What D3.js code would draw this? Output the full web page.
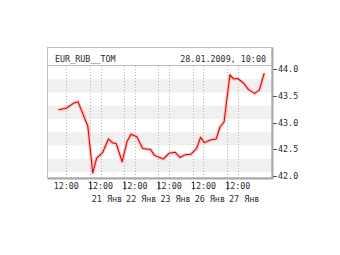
<!DOCTYPE html>
<html>
<head>
  <meta charset="utf-8">
  <title></title>
  <style>
    body,html{
      margin:0;
      padding:0;
      background:#fff;
    }
    text{
      font-family: "DejaVu Sans Mono", monospace;
      font-size:8.4px;
      fill:#2a2a2a;
    }
  </style>
</head>
<body>
  <div id="container"></div>
  <script src="https://d3js.org/d3.v7.min.js"></script>
  <script type="text/javascript">

    var title = 'EUR_RUB__TOM';
    var stamp = '28.01.2009, 10:00';

    // trading days shown on the axis (weekend is skipped)
    var tradingDays = ['2009-01-20','2009-01-21','2009-01-22','2009-01-23','2009-01-26','2009-01-27','2009-01-28'];
    var dayLabels = ['20 Янв','21 Янв','22 Янв','23 Янв','26 Янв','27 Янв'];
    var yTicks = [42.0, 42.5, 43.0, 43.5, 44.0];

    var times = [
      '2009-01-20 10:00','2009-01-20 12:00','2009-01-20 14:00','2009-01-20 15:00','2009-01-20 17:30',
      '2009-01-21 10:00','2009-01-21 11:00','2009-01-21 12:30','2009-01-21 14:00','2009-01-21 15:00','2009-01-21 16:00','2009-01-21 17:30',
      '2009-01-22 10:00','2009-01-22 11:00','2009-01-22 12:30','2009-01-22 14:00','2009-01-22 16:00','2009-01-22 17:00',
      '2009-01-23 10:30','2009-01-23 12:00','2009-01-23 13:30','2009-01-23 14:45','2009-01-23 16:00','2009-01-23 17:30',
      '2009-01-26 10:15','2009-01-26 11:15','2009-01-26 12:15','2009-01-26 13:45','2009-01-26 15:15','2009-01-26 16:15','2009-01-26 17:15',
      '2009-01-27 10:00','2009-01-27 11:00','2009-01-27 12:00','2009-01-27 13:30','2009-01-27 14:45','2009-01-27 16:15','2009-01-27 17:30',
      '2009-01-28 10:00'
    ];
    var rates = [
      43.24, 43.27, 43.37, 43.39, 42.93,
      42.05, 42.33, 42.43, 42.69, 42.62, 42.60, 42.26,
      42.64, 42.78, 42.73, 42.51, 42.49, 42.38,
      42.31, 42.42, 42.44, 42.34, 42.39, 42.40,
      42.51, 42.72, 42.62, 42.67, 42.69, 42.92, 43.01,
      43.90, 43.82, 43.83, 43.74, 43.62, 43.55, 43.61,
      43.93
    ];

    var W = 340, H = 255;
    var box = {left:47.5, top:47.5, right:272, bottom:178, plotTop:66};

    // session slot per trading day, in hours
    var slotStart = 9.25, slotLen = 8.75;

    var parse = d3.timeParse('%Y-%m-%d %H:%M');
    function tradePos(s){
      var t = parse(s);
      var day = tradingDays.indexOf(d3.timeFormat('%Y-%m-%d')(t));
      var h = t.getHours() + t.getMinutes()/60;
      return day + (h - slotStart)/slotLen;
    }
    function noonPos(i){ return tradePos(tradingDays[i] + ' 12:00'); }

    var data = times.map(function(s,i){ return {x:tradePos(s), v:rates[i]}; });

    var x = d3.scaleLinear().domain([-0.233, 6.312]).range([box.left, box.right]);
    var y = d3.scaleLinear().domain([41.953, 44.066]).range([box.bottom, box.plotTop]);

    var svg = d3.select('#container').append('svg').attr('width',W).attr('height',H);

    // alternating bands
    var dom = y.domain();
    for(var k = 1; dom[1] - k*0.25 > dom[0]; k += 2){
      var hi = dom[1] - k*0.25, lo = Math.max(dom[0], hi - 0.25);
      svg.append('rect')
        .attr('x', box.left).attr('width', box.right - box.left)
        .attr('y', y(hi)).attr('height', y(lo) - y(hi))
        .attr('fill', '#f0f0f0');
    }

    // vertical dotted grid: day boundaries and noon
    var grid = [];
    for(var i = 1; i < dayLabels.length; i++) grid.push(i);
    for(var j = 0; j < dayLabels.length; j++) grid.push(noonPos(j));
    svg.append('g').selectAll('line').data(grid).enter().append('line')
      .attr('x1', function(d){ return Math.round(x(d)) + 0.5; })
      .attr('x2', function(d){ return Math.round(x(d)) + 0.5; })
      .attr('y1', box.plotTop).attr('y2', box.bottom)
      .attr('stroke', '#b4b4b4').attr('stroke-dasharray', '1,2');

    // line with soft halo
    var line = d3.line()
      .x(function(d){ return x(d.x); })
      .y(function(d){ return y(d.v); });
    svg.append('path').datum(data).attr('d', line)
      .attr('fill','none').attr('stroke','#f8c4c4').attr('stroke-width',3.4).attr('stroke-linejoin','round');
    svg.append('path').datum(data).attr('d', line)
      .attr('fill','none').attr('stroke','#dc0000').attr('stroke-width',1.05).attr('stroke-linejoin','round');

    // frame
    svg.append('rect')
      .attr('x', box.left).attr('y', box.top)
      .attr('width', box.right - box.left).attr('height', box.bottom - box.top)
      .attr('fill', 'none').attr('stroke', '#bdbdbd');
    svg.append('line').attr('x1', box.right + 0.5).attr('x2', box.right + 0.5)
      .attr('y1', box.top).attr('y2', box.bottom + 1).attr('stroke', '#a8a8a8').attr('stroke-width', 2);
    svg.append('line').attr('x1', box.left).attr('x2', box.right + 1)
      .attr('y1', box.bottom + 0.5).attr('y2', box.bottom + 0.5).attr('stroke', '#a8a8a8').attr('stroke-width', 2);
    svg.append('line').attr('x1', box.left).attr('x2', box.right)
      .attr('y1', box.plotTop - 0.5).attr('y2', box.plotTop - 0.5).attr('stroke', '#bdbdbd');

    svg.append('text').attr('x', 55).attr('y', 61.5).text(title);
    svg.append('text').attr('x', 266).attr('y', 61.5).attr('text-anchor','end').text(stamp);

    // right axis
    var yAxis = svg.append('g');
    yAxis.selectAll('line').data(yTicks).enter().append('line')
      .attr('x1', box.right + 1).attr('x2', box.right + 5)
      .attr('y1', function(d){ return Math.round(y(d)) + 0.5; })
      .attr('y2', function(d){ return Math.round(y(d)) + 0.5; })
      .attr('stroke', '#555');
    yAxis.selectAll('text').data(yTicks).enter().append('text')
      .attr('x', box.right + 6).attr('y', function(d){ return y(d) + 3; })
      .text(function(d){ return d3.format('.1f')(d); });

    // bottom axis
    var xAxis = svg.append('g');
    var bounds = [];
    for(var b = 1; b < dayLabels.length; b++) bounds.push(b);
    xAxis.selectAll('line').data(bounds).enter().append('line')
      .attr('x1', function(d){ return Math.round(x(d)) + 0.5; })
      .attr('x2', function(d){ return Math.round(x(d)) + 0.5; })
      .attr('y1', box.bottom + 3).attr('y2', box.bottom + 12)
      .attr('stroke', '#777');
    xAxis.selectAll('text.noon').data(dayLabels).enter().append('text')
      .attr('class','noon')
      .attr('x', function(d,i){ return x(noonPos(i)); })
      .attr('y', box.bottom + 11).attr('text-anchor','middle')
      .text('12:00');
    xAxis.selectAll('text.day').data(dayLabels.slice(1)).enter().append('text')
      .attr('class','day')
      .attr('x', function(d,i){ return x(i + 1.5); })
      .attr('y', box.bottom + 23.5).attr('text-anchor','middle')
      .text(function(d){ return d; });

  </script>
</body>
</html>
